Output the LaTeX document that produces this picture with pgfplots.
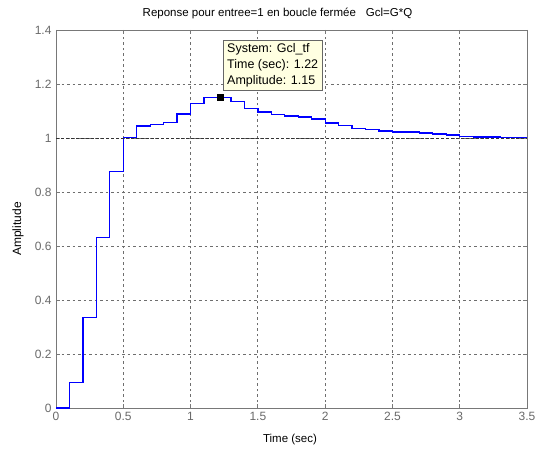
\documentclass[border=0pt]{standalone}
\usepackage{pgfplots}
\pgfplotsset{compat=1.18}
\usepackage{fontspec}
\setmainfont{Liberation Sans}
\definecolor{tipbg}{RGB}{255,255,225}
\definecolor{gridc}{RGB}{110,110,110}
\definecolor{axc}{RGB}{120,120,120}
\definecolor{tlc}{RGB}{105,105,105}
\begin{document}
\begin{tikzpicture}[x=1bp,y=1bp]
\path[use as bounding box] (0,0) rectangle (538,450);
\begin{axis}[
  at={(56bp,42bp)}, anchor=south west,
  width=471bp, height=378bp, scale only axis,
  xmin=0, xmax=3.5, ymin=0, ymax=1.4,
  xtick={0,0.5,...,3.5}, ytick={0,0.2,...,1.4},
  xticklabels={0,0.5,1,1.5,2,2.5,3,3.5},
  yticklabels={0,0.2,0.4,0.6,0.8,1,1.2,1.4},
  tick align=inside, tick pos=both,
  major tick length=4bp,
  axis line style={axc, line width=0.9bp},
  every tick/.style={axc, line width=0.9bp},
  grid=major,
  major grid style={gridc, dash pattern=on 2.5bp off 3bp, line width=0.8bp},
  tick label style={font=\fontsize{12bp}{13bp}\selectfont, text=tlc},
  xticklabel style={yshift=-1bp},
  yticklabel style={xshift=-1bp},
  clip=false,
]
\addplot[const plot, color={rgb,255:red,0;green,0;blue,255}, line width=1.3bp] coordinates {
(0,0) (0.1,0.095) (0.2,0.334) (0.3,0.631) (0.4,0.875) (0.5,1.003)
(0.6,1.044) (0.7,1.051) (0.8,1.058) (0.9,1.089) (1.0,1.128) (1.1,1.149)
(1.2,1.150) (1.3,1.134) (1.4,1.108) (1.5,1.096) (1.6,1.086) (1.7,1.081)
(1.8,1.078) (1.9,1.070) (2.0,1.056) (2.1,1.045) (2.2,1.036) (2.3,1.031)
(2.4,1.026) (2.5,1.022) (2.6,1.022) (2.7,1.019) (2.8,1.015) (2.9,1.011)
(3.0,1.005) (3.1,1.004) (3.2,1.004) (3.3,1.003) (3.4,1.003) (3.5,1.003)
};
\addplot[black!80, dash pattern=on 2.5bp off 2.5bp, line width=0.9bp] coordinates {(0,1) (3.5,1)};
\addplot[only marks, mark=square*, mark size=3bp, black] coordinates {(1.22,1.15)};
\node[draw=black!60, fill=tipbg, anchor=north west, align=left, inner xsep=4bp, inner ysep=3bp,
  font=\fontsize{12.5bp}{16bp}\selectfont] at (axis cs:1.241,1.363)
  {System: Gcl\_tf\\Time (sec): 1.22\\Amplitude: 1.15};
\end{axis}
\node[font=\fontsize{11.5bp}{13bp}\selectfont] at (277.5,437) {Reponse pour entree=1 en boucle fermée\hspace{10bp}Gcl=G*Q};
\node[font=\fontsize{12bp}{13bp}\selectfont, rotate=90] at (18,221) {Amplitude};
\node[font=\fontsize{11.5bp}{13bp}\selectfont] at (290,10) {Time (sec)};
\end{tikzpicture}
\end{document}
